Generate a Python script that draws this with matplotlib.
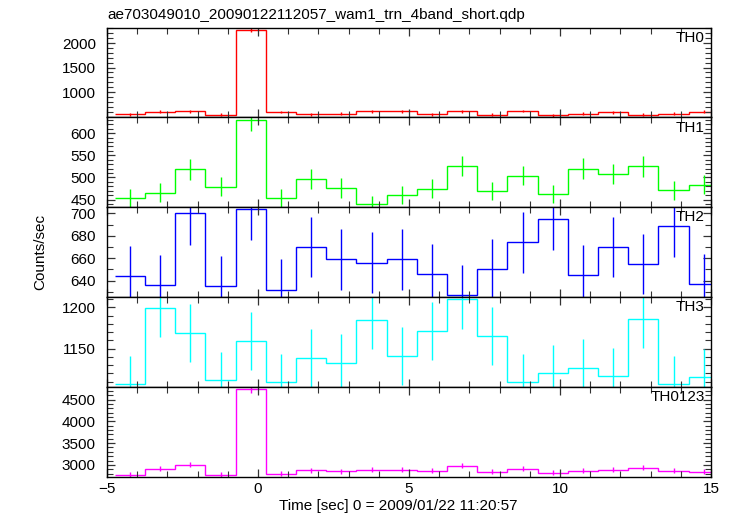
import numpy as np
import matplotlib
matplotlib.use('Agg')
import matplotlib.pyplot as plt
from matplotlib.ticker import MultipleLocator, FixedLocator

plt.rcParams['font.family'] = ['Liberation Sans', 'DejaVu Sans']

# bin centres (sec), bin width 1 s
time = [-4.24, -3.24, -2.24, -1.24, -0.24, 0.76, 1.76, 2.76, 3.76, 4.76,
        5.76, 6.76, 7.76, 8.76, 9.76, 10.76, 11.76, 12.76, 13.76, 14.76]
half_width = 0.5

th0 = [545, 600, 606, 538, 2273, 592, 545, 559, 606, 606,
       545, 606, 539, 612, 525, 559, 586, 539, 559, 600]
th0_err = [25, 25, 25, 25, 40, 25, 25, 25, 25, 25,
           25, 25, 25, 25, 25, 25, 25, 25, 25, 25]

th1 = [454, 466, 518, 479, 630, 453, 497, 476, 439, 460,
       475, 526, 469, 504, 463, 520, 508, 525, 471, 484]
th1_err = [21, 21, 23, 21, 25, 21, 22, 22, 20, 21,
           21, 23, 21, 22, 21, 23, 22, 23, 21, 22]

th2 = [644, 636, 700, 635, 704, 632, 670, 659, 656, 659,
       646, 627, 650, 674, 695, 645, 670, 655, 689, 637]
th2_err = [27, 27, 28, 27, 28, 27, 27, 27, 27, 27,
           27, 27, 27, 27, 28, 27, 27, 27, 28, 27]

th3 = [1107, 1199, 1169, 1112, 1159, 1110, 1139, 1133, 1185, 1141,
       1171, 1210, 1165, 1110, 1121, 1127, 1117, 1186, 1107, 1116]
th3_err = [34, 35, 35, 34, 35, 34, 35, 35, 35, 35,
           35, 36, 35, 34, 34, 35, 34, 35, 34, 34]

th0123 = [2771, 2908, 3007, 2778, 4734, 2800, 2876, 2853, 2885, 2885,
          2869, 2977, 2846, 2908, 2823, 2862, 2885, 2931, 2869, 2846]
th0123_err = [55, 55, 58, 55, 75, 55, 55, 55, 55, 55,
              55, 57, 55, 55, 55, 55, 55, 56, 55, 55]

bands = ['TH0', 'TH1', 'TH2', 'TH3', 'TH0123']
values = [th0, th1, th2, th3, th0123]
errors = [th0_err, th1_err, th2_err, th3_err, th0123_err]
colors = ['#ff0000', '#00ff00', '#0000ff', '#00ffff', '#ff00ff']
ylims = [(484, 2320), (433, 636), (625.4, 705.6), (1104, 1212.6), (2732, 4798)]
yticks = [[1000, 1500, 2000], [450, 500, 550, 600], [640, 660, 680, 700],
          [1150, 1200], [3000, 3500, 4000, 4500]]
minors = [100, 10, 10, 10, 100]

W, H = 733, 516
fig = plt.figure(figsize=(W / 100, H / 100), dpi=100)

left, right = 107, 711
top, bottom = 27.5, 476.5
ph = (bottom - top) / 5
fs = 11

edges = np.append(np.array(time) - half_width, time[-1] + half_width)

for i in range(5):
    ax = fig.add_axes([left / W, 1 - (top + ph * (i + 1)) / H, (right - left) / W, ph / H])
    ax.stairs(values[i], edges, baseline=None, color=colors[i], lw=1.0)
    ax.errorbar(time, values[i], yerr=errors[i], fmt='none', ecolor=colors[i],
                elinewidth=1.0, capsize=0)
    ax.set_xlim(-5, 15)
    ax.set_ylim(*ylims[i])
    ax.xaxis.set_major_locator(MultipleLocator(5))
    ax.xaxis.set_minor_locator(MultipleLocator(1))
    ax.yaxis.set_major_locator(FixedLocator(yticks[i]))
    ax.yaxis.set_minor_locator(MultipleLocator(minors[i]))
    ax.tick_params(which='both', direction='in', top=True, right=True,
                   labelsize=fs, color='#333333')
    ax.tick_params(which='major', length=6, width=0.9)
    ax.tick_params(which='minor', length=4, width=0.8)
    ax.tick_params(axis='y', pad=8)
    ax.tick_params(axis='x', pad=4)
    for sp in ax.spines.values():
        sp.set_linewidth(1.0)
    if i < 4:
        ax.tick_params(labelbottom=False)
    ax.text(0.99, 0.885, bands[i], transform=ax.transAxes, ha='right',
            va='center', fontsize=fs)

fig.text(left / W, 1 - 19.5 / H, 'ae703049010_20090122112057_wam1_trn_4band_short.qdp',
         ha='left', va='baseline', fontsize=fs)
fig.text(40 / W, 1 - 252 / H, 'Counts/sec', rotation=90, ha='center',
         va='center', fontsize=fs)
fig.text(398 / W, 1 - 506 / H, 'Time [sec] 0 = 2009/01/22 11:20:57',
         ha='center', va='center', fontsize=fs)

fig.savefig('out.png', dpi=100)
